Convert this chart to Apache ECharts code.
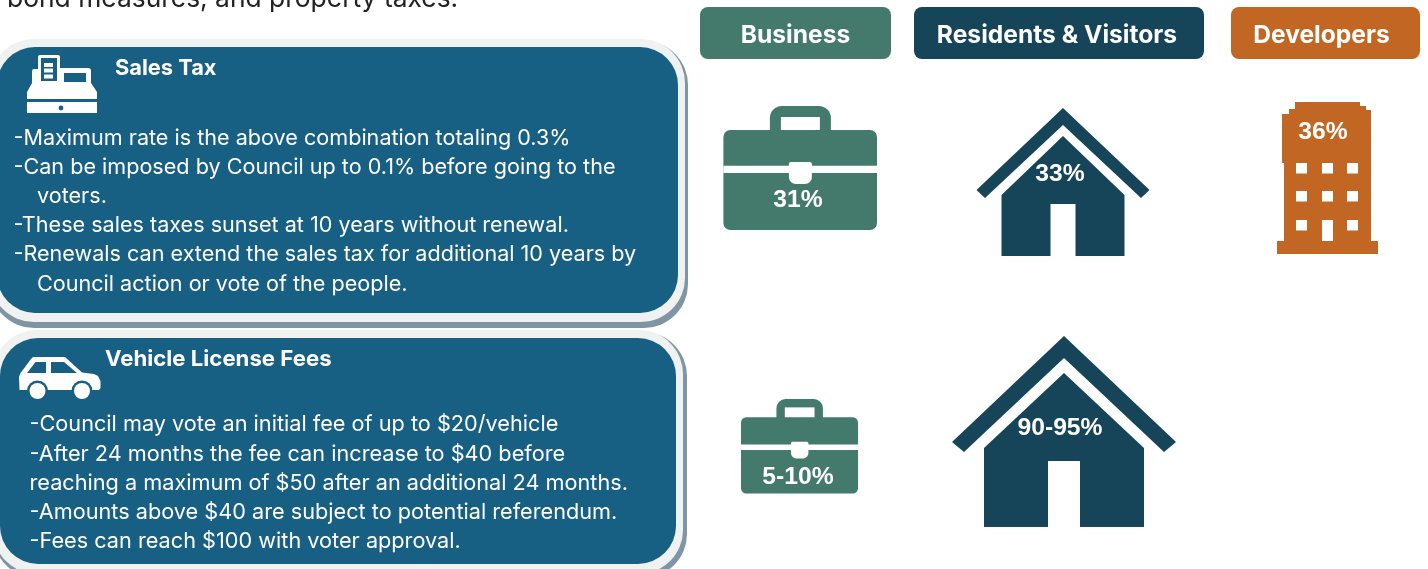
<!DOCTYPE html>
<html><head><meta charset="utf-8">
<style>html,body{margin:0;padding:0;background:#fff}#c{width:1428px;height:569px}</style>
<script src="https://cdn.jsdelivr.net/npm/echarts@6/dist/echarts.min.js"></script>
</head><body><div id="c"></div>
<script>
const introLine = 'bond measures, and property taxes.';
const categories = ['Business', 'Residents & Visitors', 'Developers'];
const salesTaxShares = ['31%', '33%', '36%'];
const vehicleFeeShares = ['5-10%', '90-95%'];
const salesTaxTitle = 'Sales Tax';
const salesTaxLines = [
  ['-Maximum rate is the above combination totaling 0.3%', 0],
  ['-Can be imposed by Council up to 0.1% before going to the', 0],
  ['voters.', 1],
  ['-These sales taxes sunset at 10 years without renewal.', 0],
  ['-Renewals can extend the sales tax for additional 10 years by', 0],
  ['Council action or vote of the people.', 1]
];
const vehicleTitle = 'Vehicle License Fees';
const vehicleLines = [
  '-Council may vote an initial fee of up to $20/vehicle',
  '-After 24 months the fee can increase to $40 before',
  'reaching a maximum of $50 after an additional 24 months.',
  '-Amounts above $40 are subject to potential referendum.',
  '-Fees can reach $100 with voter approval.'
];

const TEAL = '#437a6c', NAVY = '#164458', ORANGE = '#c16623', BLUE = '#176083', WHITE = '#ffffff';
const BODY = 'Inter, sans-serif', HEAD = 'Inter, sans-serif', LABEL = '"Liberation Sans", Arial, sans-serif';
const g = [];
const rect = (x, y, w, h, fill, r) => g.push({type:'rect', shape:{x, y, width:w, height:h, r:r||0}, style:{fill}});
const poly = (points, fill) => g.push({type:'polygon', shape:{points}, style:{fill}});
const circ = (cx, cy, r, fill) => g.push({type:'circle', shape:{cx, cy, r}, style:{fill}});
const text = (x, y, t, font, fill, align, vAlign) => g.push({type:'text', x, y, style:{text:t, font, fill, align:align||'left', verticalAlign:vAlign||'middle'}});

function panel(x0, top, right, bottom, shadowR, shadowB, innerTop, innerR, innerB) {
  rect(x0, top + 2, shadowR - x0, shadowB - top - 2, '#7f95a3', 44);
  rect(x0, top, right - x0, bottom - top, '#f0f1f1', 44);
  rect(x0 + 7, innerTop, innerR - x0 - 7, innerB - innerTop, BLUE, 38);
}
function briefcase(x, y, s, color) {
  const X = v => x + v * s, Y = v => y + v * s;
  rect(X(46.5), Y(0), 61 * s, 40 * s, color, 12 * s);
  rect(X(57.5), Y(11), 39 * s, 14 * s, WHITE);
  rect(X(0), Y(24), 153.6 * s, 100 * s, color, 7 * s);
  rect(X(0), Y(59.7), 153.6 * s, 7.3 * s, WHITE);
  rect(X(65.5), Y(56), 23 * s, 22 * s, WHITE, [2 * s, 2 * s, 7 * s, 7 * s]);
}
function house(cx, apex, tipDx, tipY, tip2Dx, tip2Y, innerApex, bodyApex, bodyDx, bodyY, bottom, doorDx, doorTop) {
  poly([[cx, apex], [cx + tipDx, tipY], [cx + tip2Dx, tip2Y], [cx, innerApex], [cx - tip2Dx, tip2Y], [cx - tipDx, tipY]], NAVY);
  poly([[cx, bodyApex], [cx + bodyDx, bodyY], [cx + bodyDx, bottom], [cx + doorDx, bottom], [cx + doorDx, doorTop], [cx - doorDx, doorTop], [cx - doorDx, bottom], [cx - bodyDx, bottom], [cx - bodyDx, bodyY]], NAVY);
}
function building() {
  poly([[1295,102],[1360,102],[1360,106],[1366,106],[1366,110],[1371,110],[1371,241],[1378,241],[1378,254],[1277,254],[1277,241],[1284,241],[1284,163],[1282,163],[1282,114],[1289,114],[1289,109],[1295,109]], ORANGE);
  [1296,1322,1347].forEach(x => [163,191,220].forEach(y => rect(x, y, 11, y === 220 && x === 1322 ? 21 : 10.5, WHITE)));
}
function register() {
  rect(38, 55, 22, 32, WHITE, [2,2,0,0]);
  rect(41, 58, 16, 23, BLUE);
  [63, 68.5, 74.5].forEach(y => rect(44, y, 9, 4, WHITE));
  rect(32, 69, 8, 18, WHITE, [2,0,0,0]);
  rect(58, 68, 33, 19, WHITE, [0,3,0,0]);
  rect(64, 73, 22, 9, BLUE);
  poly([[32,83],[91,83],[97,92],[97,99],[27,99],[27,92]], WHITE);
  rect(27, 102, 70, 11, WHITE);
  circ(61, 108, 2.4, BLUE);
}
function car() {
  poly([[31,359],[33,357],[65,357],[82,372.5],[94,374],[98,376],[100.5,381],[100.5,388],[99,390],[19.5,390],[19,377],[20.5,373]], WHITE);
  poly([[27,373],[35.5,362],[46,362],[46,373]], BLUE);
  poly([[51,362],[64,362],[77,373],[51,373]], BLUE);
  circ(37.5, 391, 10.5, BLUE); circ(82, 391, 10.5, BLUE);
  circ(37.5, 391, 8, WHITE); circ(82, 391, 8, WHITE);
}

// intro line
text(7, -0.5, introLine, '26.4px ' + BODY, '#222222');

// panels
panel(-10, 39, 685, 322, 688, 328, 47, 678, 313);
panel(-7, 330, 683, 574, 687, 578, 338, 676, 564);

// panel text
register(); car();
text(115, 68, salesTaxTitle, 'bold 21.8px ' + HEAD, WHITE);
[138.5,167.5,196.5,225.5,254.5,284.5].forEach((y, i) => text(salesTaxLines[i][1] ? 37 : 13.5, y, salesTaxLines[i][0], '21.6px ' + BODY, WHITE));
text(105, 359, vehicleTitle, 'bold 22.2px ' + HEAD, WHITE);
[424.5,454.5,483.5,512.5,541.5].forEach((y, i) => text(29.5, y, vehicleLines[i], '21.7px ' + BODY, WHITE));

// category buttons
[[700,191,TEAL,795.5],[914,290,NAVY,1057],[1231,189,ORANGE,1321.5]].forEach((b, i) => {
  rect(b[0], 7, b[1], 52, b[2], 8);
  text(b[3], 36, categories[i], 'bold 24.6px ' + HEAD, WHITE, 'center');
});

// icons
briefcase(723.4, 106, 1, TEAL);
briefcase(741, 399, 0.762, TEAL);
house(1063, 108, 86.5, 190, 78, 198, 125, 136, 61.5, 195, 256, 12.5, 204);
house(1064, 336, 112, 442, 100, 452, 358, 373, 80, 448, 527, 16, 461);
building();

// share labels
const LF = 'bold 24.7px ' + LABEL;
text(798, 200, salesTaxShares[0], LF, WHITE, 'center');
text(1060, 174, salesTaxShares[1], LF, WHITE, 'center');
text(1323, 132, salesTaxShares[2], LF, WHITE, 'center');
text(798, 477, vehicleFeeShares[0], LF, WHITE, 'center');
text(1060, 428, vehicleFeeShares[1], LF, WHITE, 'center');

const chart = echarts.init(document.getElementById('c'), null, {renderer:'canvas', width:1428, height:569});
chart.setOption({animation:false, backgroundColor:'#ffffff', graphic:{elements:g}});
</script></body></html>
